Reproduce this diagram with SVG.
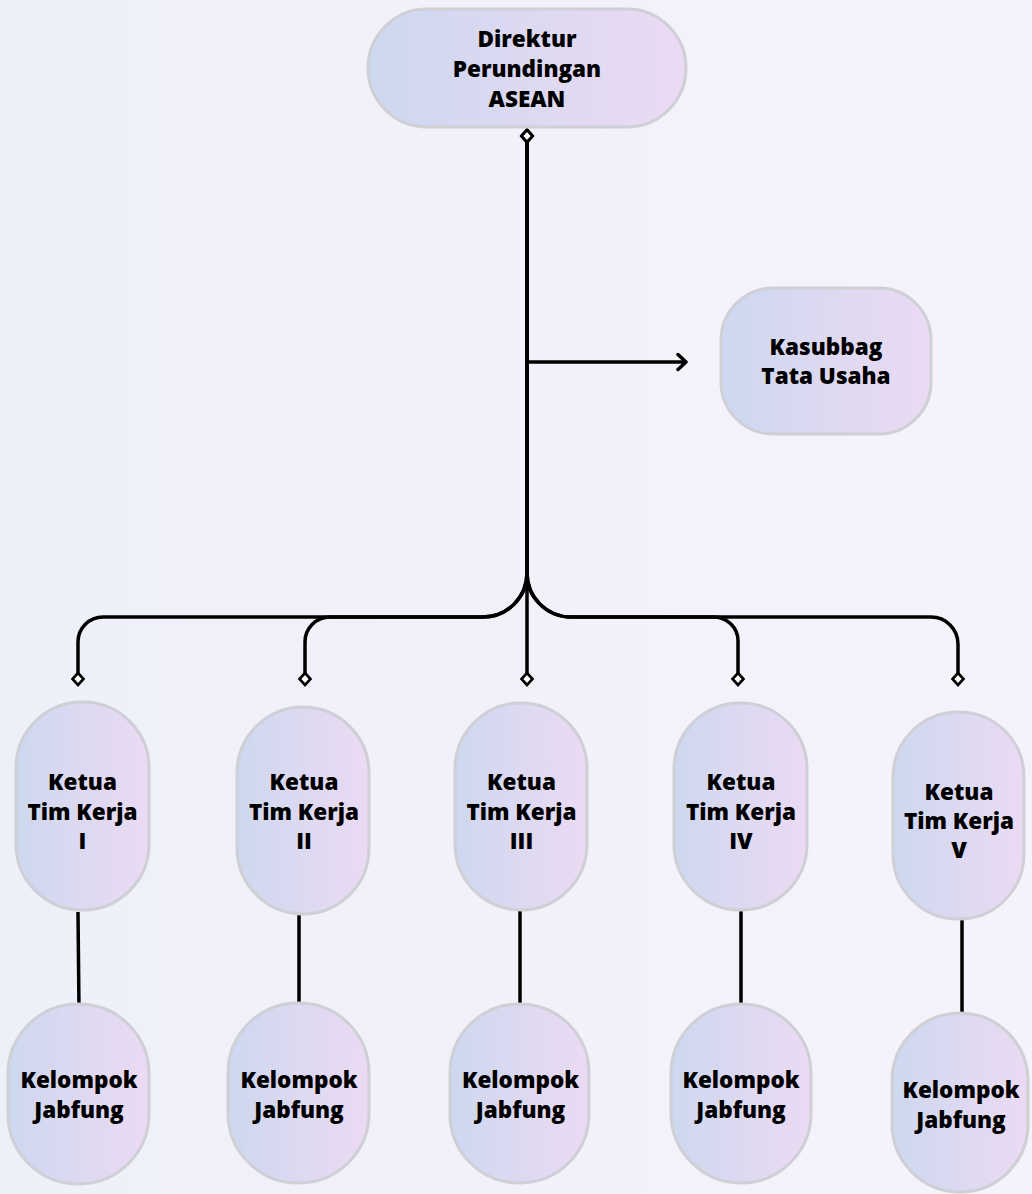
<svg xmlns="http://www.w3.org/2000/svg" width="1032" height="1194" viewBox="0 0 1032 1194">
  <defs>
    <linearGradient id="bg" x1="0" y1="0" x2="1" y2="0">
      <stop offset="0" stop-color="#eef0f9"/>
      <stop offset="1" stop-color="#f6f2fb"/>
    </linearGradient>
    <linearGradient id="nodefill" x1="0" y1="0" x2="1" y2="0">
      <stop offset="0" stop-color="#cdd8ef"/>
      <stop offset="1" stop-color="#ecdaf3"/>
    </linearGradient>
    <marker id="dia" viewBox="-8 -8 16 16" markerWidth="16" markerHeight="16" refX="0" refY="0" orient="auto" markerUnits="userSpaceOnUse">
      <path d="M-6,0 L0,-5.5 L6,0 L0,5.5 Z" fill="#fff" stroke="#000" stroke-width="2.6"/>
    </marker>
    <marker id="arr" viewBox="-12 -10 14 20" markerWidth="14" markerHeight="20" refX="0" refY="0" orient="auto" markerUnits="userSpaceOnUse">
      <path d="M-8,-7.5 L0,0 L-8,7.5" fill="none" stroke="#000" stroke-width="3.5" stroke-linecap="round" stroke-linejoin="round"/>
    </marker>
    <style>
      .node rect { fill: url(#nodefill); stroke: #cfcfd6; stroke-width: 3; }
      .node text { font-family: "Open Sans", "Noto Sans", "DejaVu Sans", sans-serif; font-weight: 800; font-size: 22.5px; fill: #000; text-anchor: middle; }
      .edge { fill: none; stroke: #000; stroke-width: 3.5; }
      .tree { marker-start: url(#dia); marker-end: url(#dia); }
      .link { fill: none; stroke: #000; stroke-width: 3.5; }
    </style>
  </defs>

  <rect x="0" y="0" width="1032" height="1194" fill="url(#bg)"/>

  <g id="connectors">
    <path class="edge" d="M527,362 L686,362" marker-end="url(#arr)"/>
    <path class="edge tree" d="M527,136 L527,573 A44,44 0 0 1 483,617 L103,617 A25,25 0 0 0 78,642 L78,679"/>
    <path class="edge tree" d="M527,136 L527,573 A44,44 0 0 1 483,617 L330,617 A25,25 0 0 0 305,642 L305,679"/>
    <path class="edge tree" d="M527,136 L527,679"/>
    <path class="edge tree" d="M527,136 L527,573 A44,44 0 0 0 571,617 L714,617 A24,24 0 0 1 738,641 L738,679"/>
    <path class="edge tree" d="M527,136 L527,573 A44,44 0 0 0 571,617 L931,617 A27,27 0 0 1 958,644 L958,679"/>
    <path class="link" d="M78,912 L79,1010"/>
    <path class="link" d="M299,914 L299,1010"/>
    <path class="link" d="M520,911 L520,1010"/>
    <path class="link" d="M741,911 L741,1010"/>
    <path class="link" d="M962,920 L962,1019"/>
  </g>

  <g id="node-direktur" class="node">
    <rect x="368" y="9" width="318" height="118" rx="59"/>
    <text x="527" y="47">Direktur</text>
    <text x="527" y="77">Perundingan</text>
    <text x="527" y="107">ASEAN</text>
  </g>

  <g id="node-kasubbag" class="node">
    <rect x="721" y="288" width="210" height="146" rx="52"/>
    <text x="826" y="355">Kasubbag</text>
    <text x="826" y="384">Tata Usaha</text>
  </g>

  <g id="node-ketua-1" class="node">
    <rect x="16" y="702" width="133" height="208" rx="66"/>
    <text x="82.5" y="790">Ketua</text>
    <text x="82.5" y="819.5">Tim Kerja</text>
    <text x="82.5" y="849">I</text>
  </g>
  <g id="node-ketua-2" class="node">
    <rect x="237" y="707" width="132" height="207" rx="66"/>
    <text x="304" y="790">Ketua</text>
    <text x="304" y="819.5">Tim Kerja</text>
    <text x="304" y="849">II</text>
  </g>
  <g id="node-ketua-3" class="node">
    <rect x="455" y="703" width="132" height="207" rx="66"/>
    <text x="521.5" y="790">Ketua</text>
    <text x="521.5" y="819.5">Tim Kerja</text>
    <text x="521.5" y="849">III</text>
  </g>
  <g id="node-ketua-4" class="node">
    <rect x="674" y="703" width="133" height="207" rx="66"/>
    <text x="741" y="790">Ketua</text>
    <text x="741" y="819.5">Tim Kerja</text>
    <text x="741" y="849">IV</text>
  </g>
  <g id="node-ketua-5" class="node">
    <rect x="893" y="712" width="131" height="207" rx="65"/>
    <text x="959" y="800">Ketua</text>
    <text x="959" y="829">Tim Kerja</text>
    <text x="959" y="858">V</text>
  </g>

  <g id="node-kelompok-1" class="node">
    <rect x="8" y="1004" width="141" height="180" rx="70"/>
    <text x="79" y="1088">Kelompok</text>
    <text x="79" y="1118">Jabfung</text>
  </g>
  <g id="node-kelompok-2" class="node">
    <rect x="228" y="1003" width="141" height="180" rx="70"/>
    <text x="299" y="1088">Kelompok</text>
    <text x="299" y="1118">Jabfung</text>
  </g>
  <g id="node-kelompok-3" class="node">
    <rect x="450" y="1004" width="139" height="179" rx="69"/>
    <text x="520.5" y="1088">Kelompok</text>
    <text x="520.5" y="1118">Jabfung</text>
  </g>
  <g id="node-kelompok-4" class="node">
    <rect x="671" y="1004" width="140" height="179" rx="70"/>
    <text x="741" y="1088">Kelompok</text>
    <text x="741" y="1118">Jabfung</text>
  </g>
  <g id="node-kelompok-5" class="node">
    <rect x="892" y="1013" width="136" height="179" rx="68"/>
    <text x="961" y="1098">Kelompok</text>
    <text x="961" y="1128">Jabfung</text>
  </g>
</svg>
